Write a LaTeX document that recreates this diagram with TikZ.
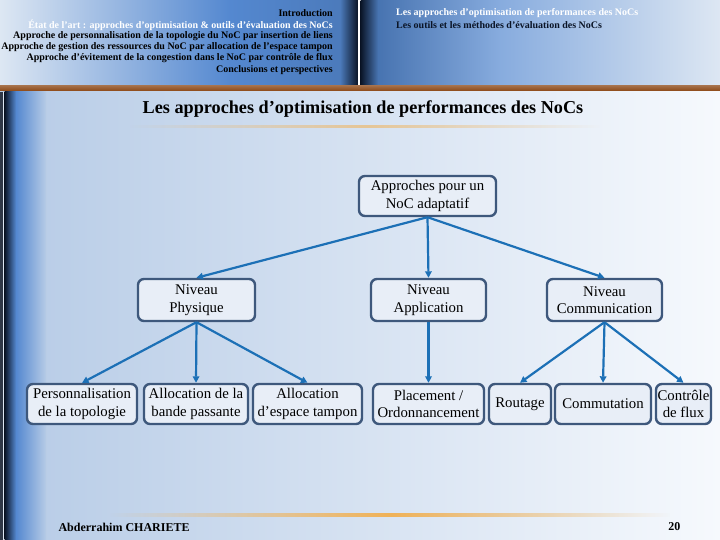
\documentclass[tikz,border=0pt]{standalone}
\usepackage{fontspec}
\setmainfont{Liberation Serif}
\usetikzlibrary{arrows.meta,fadings}
\definecolor{boxedge}{RGB}{62,88,124}
\definecolor{boxfill}{RGB}{232,238,247}
\definecolor{arrowblue}{RGB}{28,112,182}
\definecolor{hdlight}{RGB}{221,231,243}
\definecolor{hdblue}{RGB}{84,136,208}
\definecolor{hdnavy}{RGB}{10,20,38}
\definecolor{bgleft}{RGB}{182,203,230}
\definecolor{bgright}{RGB}{246,249,253}
\definecolor{brownbar}{RGB}{140,72,22}
\definecolor{glow}{RGB}{240,178,88}
\tikzfading[name=fadesides, left color=transparent!100, right color=transparent!100, middle color=transparent!0]
\tikzset{
  levelbox/.style={draw=boxedge, line width=2.4pt, rounded corners=6pt, fill=boxfill, align=center,
    font=\fontsize{14.8}{17.5}\selectfont, inner sep=1pt, minimum height=40pt},
  link/.style={draw=arrowblue, line width=2.2pt, -{Triangle[length=6.5pt,width=6.5pt]}},
  hdtext/.style={font=\fontsize{10}{11}\selectfont\bfseries, inner sep=0pt}
}
\begin{document}
\begin{tikzpicture}[x=1pt,y=-1pt]
\useasboundingbox (0,0) rectangle (720,540);
% slide background
\shade[left color=bgleft, right color=bgright] (0,92) rectangle (720,540);
\fill[hdnavy!85] (0,92) rectangle (3,540);
\fill[hdlight] (3,92) rectangle (4.5,540);
\shade[left color=hdnavy, right color=hdblue] (4.5,92) rectangle (16,540);
\shade[left color=hdblue, right color=bgleft] (16,92) rectangle (46,540);
% header band, two panels
\shade[left color=hdlight, right color=hdblue] (0,0) rectangle (230,86);
\shade[left color=hdblue, right color=hdblue!90!black] (230,0) rectangle (340,86);
\shade[left color=hdblue!90!black, right color=hdnavy] (340,0) rectangle (358,86);
\fill[white] (358,0) rectangle (360.5,86);
\shade[left color=hdnavy, right color=hdblue!85!black] (360.5,0) rectangle (378,86);
\shade[left color=hdblue!85!black, right color=hdblue!70!white] (378,0) rectangle (500,86);
\shade[left color=hdblue!70!white, right color=hdlight] (500,0) rectangle (720,86);
\shade[top color=brownbar!80, bottom color=brownbar] (0,86) rectangle (720,91);
% glow lines
\fill[glow, opacity=0.6, path fading=fadesides] (130,125) rectangle (600,128);
\fill[glow, path fading=fadesides] (110,513) rectangle (670,517);
% header texts
\foreach \t/\yy/\c [count=\i] in {Introduction/13/black,
  {État de l'art : approches d'optimisation \& outils d'évaluation des NoCs}/25/white,
  Approche de personnalisation de la topologie du NoC par insertion de liens/36/black,
  Approche de gestion des ressources du NoC par allocation de l'espace tampon/47/black,
  Approche d'évitement de la congestion dans le NoC par contrôle de flux/58/black,
  Conclusions et perspectives/70/black}
  \node[hdtext, anchor=east, text=\c] (left\i) at (333,\yy) {\t};
\node[hdtext, anchor=west, text=white] (right1) at (396,13) {Les approches d'optimisation de performances des NoCs};
\node[hdtext, anchor=west, text=hdnavy] (right2) at (396,25) {Les outils et les méthodes d'évaluation des NoCs};
% title
\node[font=\fontsize{18.2}{21}\selectfont\bfseries] (title) at (363,109) {Les approches d’optimisation de performances des NoCs};
% tree
\node[levelbox, minimum width=137pt] (root) at (427.5,196) {Approches pour un\\NoC adaptatif};
\node[levelbox, minimum width=117pt, minimum height=42pt] (phys) at (196.5,300) {Niveau\\Physique};
\node[levelbox, minimum width=115pt, minimum height=42pt] (appl) at (428.5,300) {Niveau\\Application};
\node[levelbox, minimum width=115pt, minimum height=42pt] (comm) at (604.5,300) {Niveau\\Communication};
\foreach \nm/\cx/\w/\txt in {perso/82/110/{Personnalisation\\de la topologie}, bande/196/104/{Allocation de la\\bande passante},
  tampon/307.5/109/{Allocation\\d’espace tampon}, place/428.5/111/{Placement /\\Ordonnancement},
  rout/520/62/{Routage}, commut/603/96/{Commutation}, ctrl/683.5/55/{Contrôle\\de flux}}
  \node[levelbox, minimum width=\w pt, inner sep=0pt] (\nm) at (\cx,404) {\txt};
% connectors
\foreach \a/\b in {root/phys, root/appl, root/comm, phys/perso, phys/bande, phys/tampon,
  appl/place, comm/rout, comm/commut, comm/ctrl}
  \draw[link] (\a.south) -- (\b.north);
% footer
\node[font=\fontsize{12}{13}\selectfont\bfseries, anchor=west] (author) at (55,527) {Abderrahim CHARIETE};
\node[font=\fontsize{12}{13}\selectfont\bfseries, anchor=east] (page) at (684,527) {20};
\end{tikzpicture}
\end{document}
